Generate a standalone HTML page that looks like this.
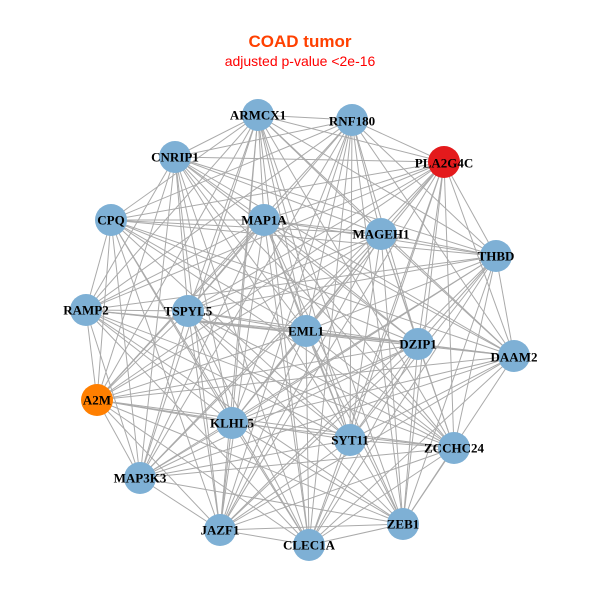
<!DOCTYPE html>
<html><head><meta charset="utf-8"><style>
html,body{margin:0;padding:0;background:#fff;width:600px;height:600px;overflow:hidden}
svg text.l{font-family:"Liberation Serif",serif;font-weight:bold;font-size:13px;fill:#000;text-anchor:middle;dominant-baseline:central}
</style></head><body>
<svg id="s" width="600" height="600" xmlns="http://www.w3.org/2000/svg">
<text x="300" y="47" text-anchor="middle" font-family="Liberation Sans,sans-serif" font-weight="bold" font-size="17" fill="#ff4000">COAD tumor</text>
<text x="300" y="66" text-anchor="middle" font-family="Liberation Sans,sans-serif" font-size="14" fill="#ff0000">adjusted p-value &lt;2e-16</text>
<g id="e" stroke="#aaaaaa" stroke-width="1"></g>
<g id="n"></g>
<g>
<text class="l" x="258" y="115">ARMCX1</text>
<text class="l" x="352" y="121">RNF180</text>
<text class="l" x="444" y="163">PLA2G4C</text>
<text class="l" x="175" y="157">CNRIP1</text>
<text class="l" x="111" y="220">CPQ</text>
<text class="l" x="264" y="220">MAP1A</text>
<text class="l" x="381" y="234">MAGEH1</text>
<text class="l" x="496" y="256">THBD</text>
<text class="l" x="86" y="310">RAMP2</text>
<text class="l" x="188" y="311">TSPYL5</text>
<text class="l" x="306" y="331">EML1</text>
<text class="l" x="418" y="344">DZIP1</text>
<text class="l" x="514" y="357">DAAM2</text>
<text class="l" x="97" y="400">A2M</text>
<text class="l" x="232" y="423">KLHL5</text>
<text class="l" x="350" y="440">SYT11</text>
<text class="l" x="454" y="448">ZCCHC24</text>
<text class="l" x="140" y="478">MAP3K3</text>
<text class="l" x="220" y="530">JAZF1</text>
<text class="l" x="309" y="545">CLEC1A</text>
<text class="l" x="403" y="524">ZEB1</text>
</g>
</svg>
<script>
var P=[[258,115],[352,120],[444,162,'#e41a1c'],[175,157],[111,220],[264,220],[381,234],[496,256],[86,310],[188,311],[306,331],[418,344],[514,356],[97,400,'#ff7f00'],[232,423],[350,440],[454,448],[140,478],[220,530],[309,545],[403,524]];
var ns="http://www.w3.org/2000/svg",e=document.getElementById('e'),n=document.getElementById('n');
for(var i=0;i<P.length;i++)for(var j=i+1;j<P.length;j++){if((i*7+j*3)%11==0)continue;var l=document.createElementNS(ns,'line');l.setAttribute('x1',P[i][0]);l.setAttribute('y1',P[i][1]);l.setAttribute('x2',P[j][0]);l.setAttribute('y2',P[j][1]);e.appendChild(l);}
P.forEach(function(p){var c=document.createElementNS(ns,'circle');c.setAttribute('cx',p[0]);c.setAttribute('cy',p[1]);c.setAttribute('r',16);c.setAttribute('fill',p[2]||'#7eb0d5');n.appendChild(c);});
</script>
</body></html>
